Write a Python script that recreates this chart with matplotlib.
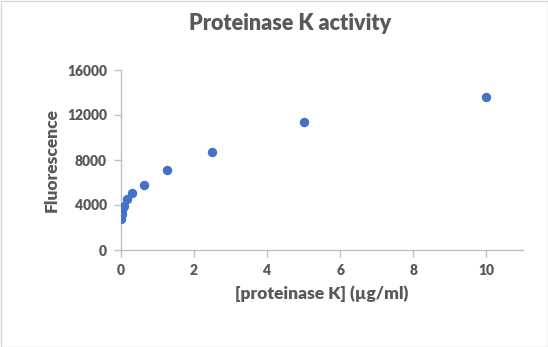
import matplotlib
matplotlib.use("Agg")
import matplotlib.pyplot as plt
from matplotlib.patches import Rectangle

# Proteinase K concentration series (µg/ml) and measured fluorescence
concentration = [10, 5, 2.5, 1.25, 0.625, 0.3125, 0.156, 0.078, 0.039, 0.0195, 0.0098, 0]
fluorescence = [13600, 11400, 8700, 7100, 5750, 5050, 4500, 3950, 3550, 3200, 3000, 2750]

x_ticks = [0, 2, 4, 6, 8, 10]
y_ticks = [0, 4000, 8000, 12000, 16000]

text_color = "#595959"
axis_color = "#bfbfbf"
marker_color = "#4472C4"
font = "Lato"
weight = "heavy"

fig = plt.figure(figsize=(5.48, 3.47), dpi=100)
ax = fig.add_axes([121 / 548, 1 - 250 / 347, (523 - 121) / 548, 180 / 347])

ax.scatter(concentration, fluorescence, s=46, color=marker_color, zorder=3, linewidths=0)

ax.set_xlim(0, 11)
ax.set_ylim(0, 16000)
ax.set_xticks(x_ticks)
ax.set_yticks(y_ticks)
ax.set_xticklabels([str(t) for t in x_ticks])
ax.set_yticklabels([str(t) for t in y_ticks])

for side in ("top", "right"):
    ax.spines[side].set_visible(False)
for side in ("left", "bottom"):
    ax.spines[side].set_color(axis_color)
    ax.spines[side].set_linewidth(1)

ax.tick_params(axis="both", colors=axis_color, length=5, width=1, direction="out")
ax.tick_params(axis="x", pad=5)
ax.tick_params(axis="y", pad=5)
for lbl in ax.get_xticklabels() + ax.get_yticklabels():
    lbl.set_color(text_color)
    lbl.set_fontfamily(font)
    lbl.set_fontweight(weight)
    lbl.set_fontsize(10)

ax.set_xlabel("[proteinase K] (µg/ml)", fontsize=12.5, fontweight=weight,
              color=text_color, fontfamily=font, labelpad=6)
ax.set_ylabel("Fluorescence", fontsize=12.5, fontweight=weight,
              color=text_color, fontfamily=font, labelpad=5)

fig.text(290 / 548, 1 - 24 / 347, "Proteinase K activity", ha="center", va="center",
         fontsize=15.5, fontweight=weight, color=text_color, fontfamily=font)

# thin frame around the chart area
fig.patches.append(Rectangle((0.5 / 548, 0.5 / 347), 1 - 1 / 548, 1 - 1 / 347,
                             transform=fig.transFigure, fill=False,
                             edgecolor="#d9d9d9", linewidth=1))

fig.savefig("out.png", dpi=100)
